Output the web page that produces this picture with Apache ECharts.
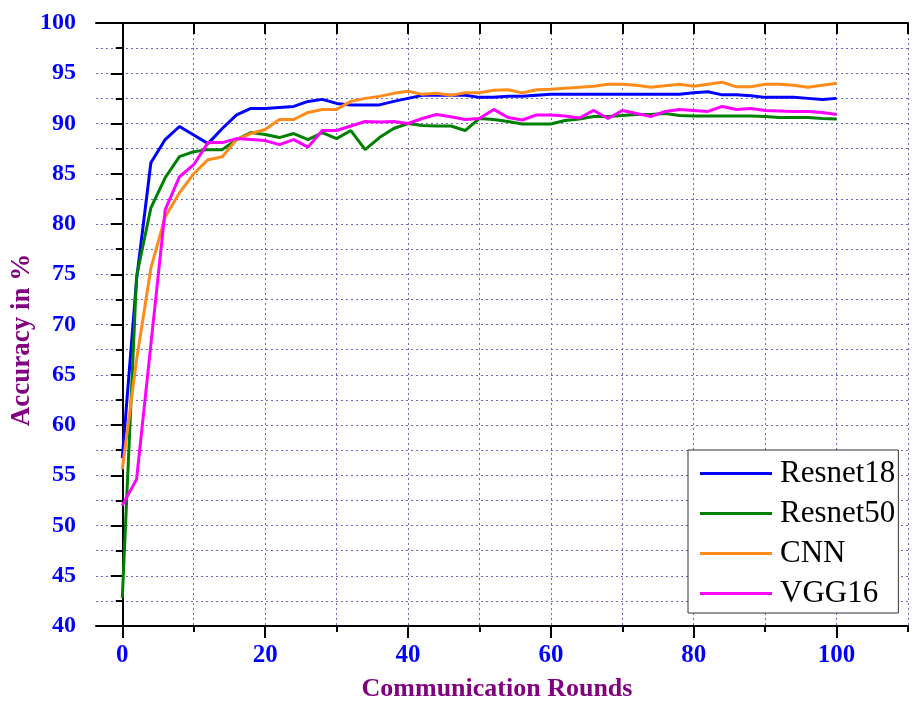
<!DOCTYPE html>
<html>
<head>
<meta charset="utf-8">
<script src="https://cdn.jsdelivr.net/npm/echarts@6/dist/echarts.min.js"></script>
<style>
html,body{margin:0;padding:0;background:#fff;}
#chart{width:914px;height:701px;}
</style>
</head>
<body>
<div id="chart"></div>
<script>
var rounds = [0,2,4,6,8,10,12,14,16,18,20,22,24,26,28,30,32,34,36,38,40,42,44,46,48,50,52,54,56,58,60,62,64,66,68,70,72,74,76,78,80,82,84,86,88,90,92,94,96,98,100];
var resnet18 = [56.7,74.5,86.1,88.4,89.7,88.85,88.0,89.5,90.85,91.5,91.5,91.6,91.7,92.2,92.4,92.0,91.85,91.85,91.85,92.2,92.5,92.8,92.8,92.8,92.8,92.6,92.6,92.7,92.7,92.8,92.9,92.9,92.9,92.9,92.9,92.9,92.9,92.9,92.9,92.9,93.05,93.15,92.85,92.85,92.75,92.6,92.6,92.6,92.5,92.4,92.5];
var resnet50 = [42.8,74.8,81.6,84.6,86.7,87.2,87.4,87.4,88.4,89.1,88.9,88.6,89.0,88.4,89.1,88.5,89.3,87.4,88.6,89.5,90.0,89.8,89.75,89.75,89.3,90.5,90.4,90.2,89.95,89.95,89.95,90.3,90.45,90.7,90.7,90.8,90.9,90.9,91.0,90.8,90.75,90.75,90.75,90.75,90.75,90.7,90.6,90.6,90.6,90.5,90.45];
var cnn = [55.6,66.5,75.6,80.7,83.1,85.0,86.4,86.7,88.4,89.0,89.4,90.4,90.4,91.1,91.4,91.4,92.2,92.5,92.7,93.0,93.2,92.9,93.0,92.8,93.05,93.05,93.3,93.35,93.05,93.35,93.4,93.5,93.6,93.7,93.9,93.9,93.8,93.6,93.75,93.9,93.7,93.9,94.1,93.65,93.65,93.9,93.9,93.8,93.6,93.8,94.0];
var vgg16 = [52.0,54.6,68.0,81.4,84.7,85.9,88.1,88.1,88.5,88.4,88.3,87.9,88.4,87.65,89.3,89.3,89.75,90.2,90.15,90.2,90.0,90.5,90.9,90.67,90.4,90.5,91.4,90.6,90.35,90.85,90.85,90.75,90.55,91.3,90.5,91.3,91.0,90.7,91.2,91.4,91.3,91.2,91.7,91.4,91.5,91.3,91.25,91.2,91.2,91.1,90.9];
var seriesNames = ['Resnet18','Resnet50','CNN','VGG16'];
var seriesColors = ['#0000ff','#008000','#ff8c1a','#ff00ff'];
var yTicks = {min:40, max:100, interval:5};
var xTicks = {min:0, max:110, interval:10, labelMax:100, labelInterval:20};

function pairs(arr){ return rounds.map(function(r,i){ return [r, arr[i]]; }); }
var allData = [resnet18, resnet50, cnn, vgg16];

var serif = 'Liberation Serif, Times New Roman, serif';
var gridLine = {show:true, lineStyle:{color:'#6a6ac4', width:1, type:[2,3]}};
var blackLine = {show:true, lineStyle:{color:'#000', width:2}};
var off = {show:false};

var chart = echarts.init(document.getElementById('chart'), null, {renderer:'canvas'});
chart.setOption({
  animation:false,
  backgroundColor:'#fff',
  grid:[
    {left:96, right:6, top:23, bottom:75},
    {left:122.3, right:6, top:23, bottom:75},
    {left:122.3, right:77.4, top:23, bottom:75}
  ],
  xAxis:[
    {gridIndex:0, type:'value', position:'bottom', min:-3.75, max:110, axisLine:blackLine, axisTick:off, axisLabel:off, splitLine:off},
    {gridIndex:0, type:'value', position:'top', min:-3.75, max:110, axisLine:blackLine, axisTick:off, axisLabel:off, splitLine:off},
    {gridIndex:1, type:'value', position:'bottom', min:xTicks.min, max:xTicks.max, interval:xTicks.interval,
      axisLine:off, axisTick:{show:true, length:6, lineStyle:{color:'#000', width:2}}, axisLabel:off, splitLine:gridLine},
    {gridIndex:1, type:'value', position:'top', min:xTicks.min, max:xTicks.max, interval:xTicks.interval,
      axisLine:off, axisTick:{show:true, inside:true, length:11, lineStyle:{color:'#000', width:2}}, axisLabel:off, splitLine:off},
    {gridIndex:2, type:'value', position:'bottom', min:xTicks.min, max:xTicks.labelMax, interval:xTicks.labelInterval,
      axisLine:off, axisTick:{show:true, length:12, lineStyle:{color:'#000', width:2}},
      axisLabel:{show:true, margin:17, color:'#0000ff', fontSize:25, fontWeight:'bold', fontFamily:serif},
      splitLine:off}
  ],
  yAxis:[
    {gridIndex:0, type:'value', position:'left', min:yTicks.min, max:yTicks.max, interval:yTicks.interval,
      axisLine:blackLine, axisTick:{show:true, length:12, lineStyle:{color:'#000', width:2}},
      minorTick:{show:true, splitNumber:2, length:7, lineStyle:{color:'#000', width:2}},
      axisLabel:{show:true, margin:20, color:'#0000ff', fontSize:24, fontWeight:'bold', fontFamily:serif},
      splitLine:gridLine, minorSplitLine:gridLine},
    {gridIndex:0, type:'value', position:'right', min:yTicks.min, max:yTicks.max, interval:yTicks.interval,
      axisLine:blackLine, axisTick:{show:true, inside:true, length:11, lineStyle:{color:'#000', width:2}},
      minorTick:{show:true, splitNumber:2, length:6, lineStyle:{color:'#000', width:2}},
      axisLabel:off, splitLine:off},
    {gridIndex:1, type:'value', min:yTicks.min, max:yTicks.max, show:false},
    {gridIndex:2, type:'value', min:yTicks.min, max:yTicks.max, show:false}
  ],
  legend:{
    orient:'vertical', left:688, top:450,
    padding:[8,3,4,12], itemGap:9, itemWidth:72, itemHeight:3, icon:'rect',
    backgroundColor:'#fff', borderColor:'#333', borderWidth:1,
    textStyle:{fontFamily:serif, fontSize:31, color:'#000', lineHeight:31, padding:[0,0,0,3]},
    data:seriesNames
  },
  graphic:[
    {type:'text', x:22, y:340, rotation:Math.PI/2, style:{text:'Accuracy in %', fontSize:27, fontWeight:'bold', fontFamily:serif, fill:'#800080', align:'center', verticalAlign:'middle'}},
    {type:'text', x:497, y:689, style:{text:'Communication Rounds', fontSize:26, fontWeight:'bold', fontFamily:serif, fill:'#800080', align:'center', verticalAlign:'middle'}}
  ],
  series: seriesNames.map(function(n,i){
    return {name:n, type:'line', xAxisIndex:2, yAxisIndex:2, data:pairs(allData[i]),
      symbol:'none', showSymbol:false, color:seriesColors[i],
      lineStyle:{color:seriesColors[i], width:3}, z:3};
  })
});
</script>
</body>
</html>
